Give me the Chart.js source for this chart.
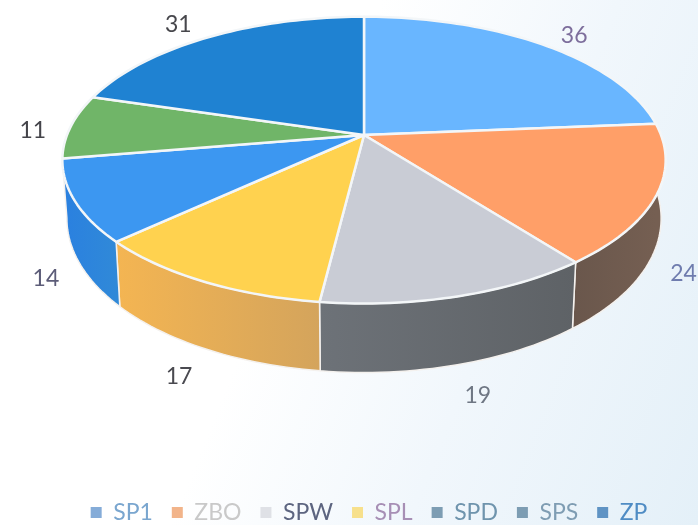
<!DOCTYPE html>
<html lang="en">
<head>
  <meta charset="UTF-8">
  <title>Pie</title>
  <script src="https://cdn.jsdelivr.net/npm/chart.js"></script>
  <style>
    html, body { margin: 0; padding: 0; }
    body { width: 698px; height: 525px; overflow: hidden;
           background: linear-gradient(112deg, #ffffff 42%, #f1f7fc 68%, #e4f0f8 100%); }
    canvas { display: block; }
  </style>
</head>
<body>
  <canvas id="pie" width="698" height="525"></canvas>

  <script>
    const categories = ['SP1', 'ZBO', 'SPW', 'SPL', 'SPD', 'SPS', 'ZP'];
    const values = [36, 24, 19, 17, 14, 11, 31];
    const topColors = ['#69b6ff', '#ff9f68', '#c9ccd5', '#ffd24f', '#3c97f1', '#70b568', '#1f82d2'];
    const sideLeft = ['#4f93d6', '#6a574c', '#6d7278', '#f4b552', '#2a80e0', '#558f4f', '#1a6cae'];
    const sideRight = ['#4f93d6', '#755f52', '#5e6266', '#d4a45c', '#3089d8', '#558f4f', '#1a6cae'];
    const valueColors = ['#7d6e9c', '#6f7cae', '#6f7784', '#4a4a50', '#5c5c78', '#44444a', '#47474c'];
    const legendMarkers = ['#85acd8', '#f2b48a', '#dfe1e6', '#f7e08c', '#7d9db3', '#7d9db3', '#5f93c4'];
    const legendTexts = ['#7aa6cf', '#c9c9c9', '#5d6580', '#a78fb5', '#6f94ad', '#7f9db3', '#4f8cc4'];

    // where the value text sits relative to the rim point of its slice
    const labelNudge = [[32, -9], [27, 79], [19, 99], [-24, 95], [-29, 77], [-38, 4], [-30, -13]];

    // flat disc -> tilted view with a little perspective
    const view = { cx: 364, cy: 135, rx: 297, ry: 139, persp: 0.175 };
    // wall stops where the 14 slice ends, the green one has none in the picture
    const wallEnd = Math.PI * 0.945;

    function rim(angle) {
      // chart.js angle: 0 is 3 o'clock, clockwise
      const u = Math.cos(angle), v = Math.sin(angle);
      const w = 1 - view.persp * v;
      return { x: view.cx + view.rx * u / w, y: view.cy + view.ry * v / w, v };
    }

    function floor(p) {
      // same rim point on the underside of the pie
      const d = 56 + 13 * Math.max(p.v, 0);
      return { x: view.cx + (p.x - view.cx) * 0.985, y: p.y + d };
    }

    function sampleAngles(start, end) {
      const out = [];
      const n = Math.max(4, Math.ceil((end - start) * 40));
      for (let i = 0; i <= n; i++) out.push(start + (end - start) * i / n);
      return out;
    }

    const pie3d = {
      id: 'pie3d',
      beforeDatasetDraw(chart) {
        const ctx = chart.ctx;
        const arcs = chart.getDatasetMeta(0).data;
        ctx.save();
        ctx.lineJoin = 'round';

        // side wall, only the part facing the viewer
        arcs.forEach((arc, i) => {
          const a0 = Math.max(arc.startAngle, -0.1);
          const a1 = Math.min(arc.endAngle, wallEnd);
          if (a1 <= a0) return;
          const pts = sampleAngles(a0, a1).map(rim);
          ctx.beginPath();
          pts.forEach((p, k) => k ? ctx.lineTo(p.x, p.y) : ctx.moveTo(p.x, p.y));
          pts.slice().reverse().forEach(p => { const f = floor(p); ctx.lineTo(f.x, f.y); });
          ctx.closePath();
          // pts run right to left along the front
          const grad = ctx.createLinearGradient(pts[pts.length - 1].x, 0, pts[0].x, 0);
          grad.addColorStop(0, sideLeft[i]);
          grad.addColorStop(1, sideRight[i]);
          ctx.fillStyle = grad;
          ctx.fill();
          ctx.strokeStyle = '#f4f1ee';
          ctx.lineWidth = 1.5;
          ctx.stroke();
        });

        // top face
        arcs.forEach((arc, i) => {
          ctx.beginPath();
          ctx.moveTo(view.cx, view.cy);
          sampleAngles(arc.startAngle, arc.endAngle).map(rim).forEach(p => ctx.lineTo(p.x, p.y));
          ctx.closePath();
          ctx.fillStyle = topColors[i];
          ctx.fill();
          ctx.strokeStyle = '#f3f6f8';
          ctx.lineWidth = 2.5;
          ctx.stroke();
        });

        // value labels
        ctx.font = '23px Lato';
        ctx.textAlign = 'center';
        ctx.textBaseline = 'middle';
        arcs.forEach((arc, i) => {
          const p = rim((arc.startAngle + arc.endAngle) / 2);
          ctx.fillStyle = valueColors[i];
          ctx.fillText(String(values[i]), p.x + labelNudge[i][0], p.y + labelNudge[i][1]);
        });
        ctx.restore();
        return false;
      }
    };

    new Chart(document.getElementById('pie'), {
      type: 'pie',
      data: {
        labels: categories,
        datasets: [{ data: values, backgroundColor: topColors, borderWidth: 0 }]
      },
      options: {
        responsive: false,
        animation: false,
        layout: { padding: { left: 40, bottom: -9 } },
        plugins: {
          tooltip: { enabled: false },
          legend: {
            position: 'bottom',
            labels: {
              font: { family: 'Lato', size: 23 },
              padding: 19,
              boxWidth: 11,
              boxHeight: 11,
              usePointStyle: true,
              pointStyle: 'rect',
              generateLabels: () => categories.map((name, i) => ({
                text: name,
                fillStyle: legendMarkers[i],
                strokeStyle: legendMarkers[i],
                fontColor: legendTexts[i],
                lineWidth: 0,
                pointStyle: 'rect',
                index: i
              }))
            }
          }
        }
      },
      plugins: [pie3d]
    });
  </script>
</body>
</html>
